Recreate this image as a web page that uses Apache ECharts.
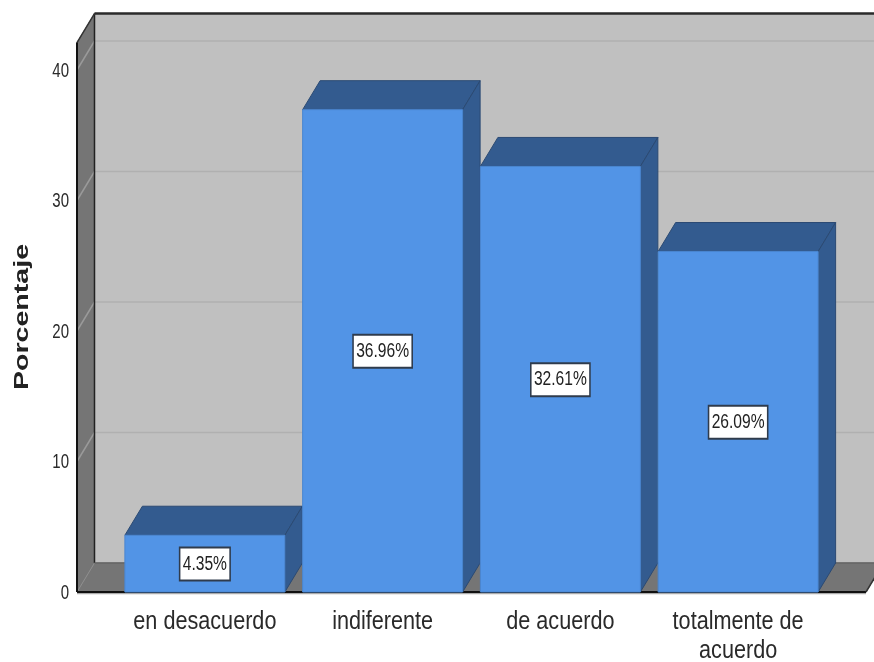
<!DOCTYPE html>
<html><head><meta charset="utf-8">
<style>html,body{margin:0;padding:0;background:#fff}#c{width:874px;height:662px}</style>
<script src="https://cdn.jsdelivr.net/npm/echarts@6/dist/echarts.min.js"></script>
</head><body><div id="c"></div>
<script>
const categories = ['en desacuerdo', 'indiferente', 'de acuerdo', 'totalmente de\nacuerdo'];
const percentages = [4.35, 36.96, 32.61, 26.09];
const yTicks = [0, 10, 20, 30, 40];
const yTitle = 'Porcentaje';
const wallTopValue = 42.1;

const DX = 17.5, DY = -29;          // oblique depth of the 3D projection
const FONT = '"Liberation Sans",Arial,sans-serif';
const chart = echarts.init(document.getElementById('c'), null, {renderer: 'canvas'});

function poly(points, fill, stroke, lw) {
  return {type: 'polygon', shape: {points}, style: {fill, stroke: stroke || fill, lineWidth: lw || 1}};
}
function line(x1, y1, x2, y2, stroke, lw) {
  return {type: 'line', shape: {x1, y1, x2, y2}, style: {stroke, lineWidth: lw}};
}
// the reference text is squeezed horizontally, so text is drawn with a horizontal scale
function squeezed(x, y, scale, style) {
  return {type: 'text', x, y, scaleX: scale, z2: 10, style: Object.assign({x: 0, y: 0, fill: '#2a2a2a'}, style)};
}

function renderFrame(params, api) {
  const cs = params.coordSys;
  const x0 = cs.x - 39, x1 = cs.x + cs.width + 39;
  const y0 = api.coord([0, 0])[1], yT = api.coord([0, wallTopValue])[1];
  const children = [
    poly([[x0 + DX, yT + DY], [x1 + DX, yT + DY], [x1 + DX, y0 + DY], [x0 + DX, y0 + DY]], '#c0c0c0'),
    poly([[x0, yT], [x0 + DX, yT + DY], [x0 + DX, y0 + DY], [x0, y0]], '#757575'),
    poly([[x0, y0], [x0 + DX, y0 + DY], [x1 + DX, y0 + DY], [x1, y0]], '#757575')
  ];
  yTicks.forEach(t => {
    const y = api.coord([0, t])[1];
    if (t > 0) {
      children.push(line(x0, y, x0 + DX, y + DY, '#9a9a9a', 1.5));
      children.push(line(x0 + DX, y + DY, x1 + DX, y + DY, '#b0b0b0', 1.5));
    } else {
      children.push(line(x0, y, x0 + DX, y + DY, '#8f8f8f', 1));
    }
  });
  children.push(
    line(x0 + DX, yT + DY, x0 + DX, y0 + DY, '#222', 1.5),
    line(x0 + DX, yT + DY, x1 + DX, yT + DY, '#2a2a2a', 2.5),
    line(x0, yT, x0 + DX, yT + DY, '#333', 1.5),
    line(x0 + DX, y0 + DY, x1 + DX, y0 + DY, '#666', 1.5),
    line(x0, yT, x0, y0, '#111', 2),
    line(x0, y0 + 1.5, x1, y0 + 1.5, '#aaa', 1.5),
    line(x0, y0, x1, y0, '#111', 2),
    line(x1, y0, x1 + DX, y0 + DY, '#333', 1.5)
  );
  return {type: 'group', children};
}

function renderBar(params, api) {
  const v = api.value(1);
  const c = api.coord([api.value(0), v]);
  const base = api.coord([api.value(0), 0]);
  const w = api.size([1, 0])[0] * 0.9;
  const l = c[0] - w / 2, r = c[0] + w / 2, t = c[1], b = base[1];
  const dark = '#335b8f', edge = '#2b4a73';
  return {type: 'group', children: [
    poly([[l, t], [l + DX, t + DY], [r + DX, t + DY], [r, t]], dark, edge, 1),
    poly([[r, t], [r + DX, t + DY], [r + DX, b + DY], [r, b]], dark, edge, 1),
    {type: 'rect', shape: {x: l, y: t, width: w, height: b - t}, style: {fill: '#5294e6', stroke: '#4a86d0', lineWidth: 1}},
    squeezed(c[0], (t + b) / 2 + 0.5, 0.78, {
      text: v.toFixed(2) + '%', align: 'center', verticalAlign: 'middle',
      font: '20px ' + FONT, fill: '#222', backgroundColor: '#fff', borderColor: '#2f3b4c', borderWidth: 2,
      padding: [6, 3, 5, 3]
    })
  ]};
}

function renderCategory(params, api) {
  const i = api.value(0);
  const p = api.coord([i, 0]);
  return squeezed(p[0], p[1] + 16, 0.865, {
    text: categories[i], align: 'center', verticalAlign: 'top', font: '25px ' + FONT, lineHeight: 29
  });
}
function renderTick(params, api) {
  const t = yTicks[api.value(0)];
  const p = api.coord([0, t]);
  return squeezed(params.coordSys.x - 47, p[1] + 1, 0.75, {
    text: String(t), align: 'right', verticalAlign: 'middle', font: '20px ' + FONT
  });
}
function renderTitle(params, api) {
  const p = api.coord([0, 20]);
  const el = squeezed(22, p[1] - 14, 1.43, {
    text: yTitle, align: 'center', verticalAlign: 'middle', font: 'bold 20px ' + FONT, fill: '#222'
  });
  el.rotation = Math.PI / 2;
  return el;
}

chart.setOption({
  animation: false,
  backgroundColor: '#fff',
  grid: {left: 116, width: 711, top: 70, height: 522, outerBoundsMode: 'none'},
  xAxis: {
    type: 'category', data: categories,
    axisLine: {show: false}, axisTick: {show: false}, splitLine: {show: false}, axisLabel: {show: false}
  },
  yAxis: {
    type: 'value', min: 0, max: 40, interval: 10,
    axisLine: {show: false}, axisTick: {show: false}, splitLine: {show: false}, axisLabel: {show: false}
  },
  series: [
    {type: 'custom', z: 1, silent: true, data: [[0, 0]], renderItem: renderFrame, clip: false},
    {type: 'custom', z: 2, silent: true, data: percentages.map((p, i) => [i, p]), renderItem: renderBar, clip: false, encode: {x: 0, y: 1}},
    {type: 'custom', z: 3, silent: true, data: categories.map((c, i) => [i, 0]), renderItem: renderCategory, clip: false},
    {type: 'custom', z: 3, silent: true, data: yTicks.map((t, i) => [i, 0]), renderItem: renderTick, clip: false},
    {type: 'custom', z: 3, silent: true, data: [[0, 0]], renderItem: renderTitle, clip: false}
  ]
});
</script></body></html>
